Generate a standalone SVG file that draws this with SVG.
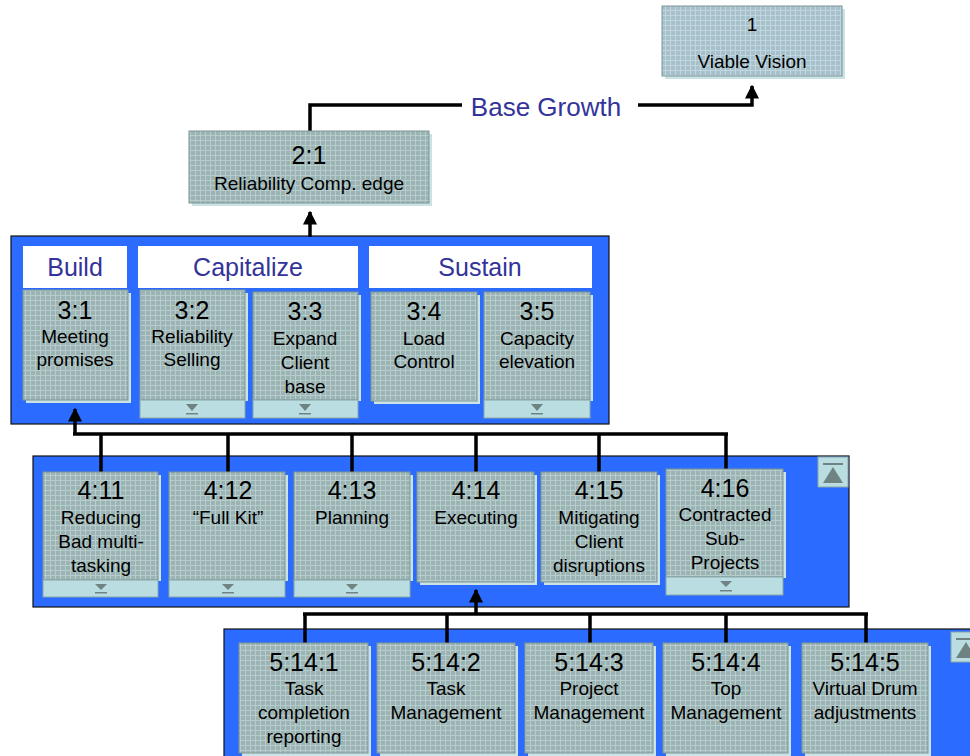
<svg xmlns="http://www.w3.org/2000/svg" width="970" height="756" viewBox="0 0 970 756">
<defs>
<pattern id="tex" width="5" height="5" patternUnits="userSpaceOnUse">
<rect width="5" height="5" fill="#9cb3b3"/>
<path d="M0 0.5H5M0.5 0V5" stroke="#b7cdcd" stroke-width="1"/>
</pattern>
<pattern id="tex2" width="5" height="5" patternUnits="userSpaceOnUse">
<rect width="5" height="5" fill="#a6c0cc"/>
<path d="M0 0.5H5M0.5 0V5" stroke="#c2d6de" stroke-width="1"/>
</pattern>
<marker id="ah" viewBox="0 0 10 10" refX="9" refY="5" markerWidth="4" markerHeight="4" orient="auto" markerUnits="strokeWidth">
<path d="M0 0L10 5L0 10Z" fill="#000"/>
</marker>
</defs>
<style>
.panel{fill:#2b6bff;stroke:#111;stroke-width:1.2}
.hdr{fill:#fff}
.htxt{font-family:"Liberation Sans",Arial,sans-serif;font-size:25px;fill:#333399;text-anchor:middle}
.shd{fill:#c9e3e6}
.box{fill:url(#tex);stroke:#7e9696;stroke-width:1}
.box2{fill:url(#tex2);stroke:#7e9696;stroke-width:1}
.strip{fill:#b9dde1;stroke:#8aa7aa;stroke-width:1}
.tri{fill:#6f8383}
.num{font-family:"Liberation Sans",Arial,sans-serif;font-size:25px;fill:#000;text-anchor:middle}
.lbl{font-family:"Liberation Sans",Arial,sans-serif;font-size:19px;fill:#000;text-anchor:middle}
.con{fill:none;stroke:#000;stroke-width:3.5}
.btn{fill:#b9dde1;stroke:#8aa7aa;stroke-width:1}
</style>

<!-- panels -->
<rect class="panel" x="11" y="236" width="598" height="188"/>
<rect class="panel" x="33" y="456" width="816" height="151"/>
<rect class="panel" x="224" y="629" width="760" height="140"/>

<!-- headers -->
<g id="hdr-build"><rect class="hdr" x="23" y="246" width="104" height="42"/><text class="htxt" x="75" y="276">Build</text></g>
<g id="hdr-capitalize"><rect class="hdr" x="138" y="246" width="220" height="42"/><text class="htxt" x="248" y="276">Capitalize</text></g>
<g id="hdr-sustain"><rect class="hdr" x="369" y="246" width="223" height="42"/><text class="htxt" x="480" y="276">Sustain</text></g>

<!-- connectors -->
<g id="connectors">
<path class="con" d="M310 131V105H462"/>
<path class="con" d="M638 105H752V86" marker-end="url(#ah)"/>
<path class="con" d="M310 237V212" marker-end="url(#ah)"/>
<path class="con" d="M101 472V434M228 472V434M352 472V434M476 472V434M599 472V434M726 469V434M73 434H728"/>
<path class="con" d="M75 434V409" marker-end="url(#ah)"/>
<path class="con" d="M305 643V614M447 643V614M590 643V614M726 643V614M866 643V614M303 614H868"/>
<path class="con" d="M476 614V590" marker-end="url(#ah)"/>
</g>
<text x="546" y="116" font-family="Liberation Sans, Arial, sans-serif" font-size="26" fill="#333399" text-anchor="middle">Base Growth</text>

<!-- level 1 -->
<g id="n1">
<rect class="shd" x="665" y="9" width="180" height="70"/>
<rect class="box2" x="662" y="6" width="180" height="70"/>
<text class="lbl" x="752" y="31" font-size="18">1</text>
<text class="lbl" x="752" y="68" font-size="19">Viable Vision</text>
</g>

<!-- level 2 -->
<g id="n2-1">
<rect class="shd" x="192" y="134" width="240" height="72"/>
<rect class="box" x="189" y="131" width="240" height="72"/>
<text class="num" x="309" y="164" font-size="23">2:1</text>
<text class="lbl" x="309" y="190">Reliability Comp. edge</text>
</g>

<!-- level 3 -->
<g id="n3-1">
<rect class="shd" x="26" y="293" width="105" height="110"/>
<rect class="box" x="23" y="290" width="105" height="110"/>
<text class="num" x="75" y="319">3:1</text>
<text class="lbl" x="75" y="343">Meeting</text>
<text class="lbl" x="75" y="366">promises</text>
</g>
<g id="n3-2">
<rect class="shd" x="143" y="293" width="105" height="108"/>
<rect class="box" x="140" y="290" width="105" height="110"/>
<rect class="strip" x="140" y="400" width="105" height="18"/>
<path class="tri" d="M186 404H198L192 411Z M186 413H198V414.5H186Z"/>
<text class="num" x="192" y="319">3:2</text>
<text class="lbl" x="192" y="343">Reliability</text>
<text class="lbl" x="192" y="366">Selling</text>
</g>
<g id="n3-3">
<rect class="shd" x="256" y="295" width="105" height="106"/>
<rect class="box" x="253" y="292" width="105" height="108"/>
<rect class="strip" x="253" y="400" width="105" height="18"/>
<path class="tri" d="M299 404H311L305 411Z M299 413H311V414.5H299Z"/>
<text class="num" x="305" y="320">3:3</text>
<text class="lbl" x="305" y="345">Expand</text>
<text class="lbl" x="305" y="369">Client</text>
<text class="lbl" x="305" y="393">base</text>
</g>
<g id="n3-4">
<rect class="shd" x="374" y="295" width="106" height="109"/>
<rect class="box" x="371" y="292" width="106" height="109"/>
<text class="num" x="424" y="320">3:4</text>
<text class="lbl" x="424" y="345">Load</text>
<text class="lbl" x="424" y="368">Control</text>
</g>
<g id="n3-5">
<rect class="shd" x="487" y="295" width="106" height="106"/>
<rect class="box" x="484" y="292" width="106" height="108"/>
<rect class="strip" x="484" y="400" width="106" height="18"/>
<path class="tri" d="M531 404H543L537 411Z M531 413H543V414.5H531Z"/>
<text class="num" x="537" y="320">3:5</text>
<text class="lbl" x="537" y="345">Capacity</text>
<text class="lbl" x="537" y="368">elevation</text>
</g>

<!-- level 4 -->
<g id="n4-11">
<rect class="shd" x="46" y="475" width="115" height="106"/>
<rect class="box" x="43" y="472" width="115" height="108"/>
<rect class="strip" x="43" y="580" width="115" height="17"/>
<path class="tri" d="M95 584H107L101 590Z M95 592H107V593.5H95Z"/>
<text class="num" x="101" y="499">4:11</text>
<text class="lbl" x="101" y="524">Reducing</text>
<text class="lbl" x="101" y="548">Bad multi-</text>
<text class="lbl" x="101" y="572">tasking</text>
</g>
<g id="n4-12">
<rect class="shd" x="172" y="475" width="116" height="106"/>
<rect class="box" x="169" y="472" width="116" height="108"/>
<rect class="strip" x="169" y="580" width="116" height="17"/>
<path class="tri" d="M222 584H234L228 590Z M222 592H234V593.5H222Z"/>
<text class="num" x="228" y="499">4:12</text>
<text class="lbl" x="228" y="524">“Full Kit”</text>
</g>
<g id="n4-13">
<rect class="shd" x="297" y="475" width="116" height="106"/>
<rect class="box" x="294" y="472" width="116" height="108"/>
<rect class="strip" x="294" y="580" width="116" height="17"/>
<path class="tri" d="M346 584H358L352 590Z M346 592H358V593.5H346Z"/>
<text class="num" x="352" y="499">4:13</text>
<text class="lbl" x="352" y="524">Planning</text>
</g>
<g id="n4-14">
<rect class="shd" x="420" y="475" width="117" height="110"/>
<rect class="box" x="417" y="472" width="117" height="110"/>
<text class="num" x="476" y="499">4:14</text>
<text class="lbl" x="476" y="524">Executing</text>
</g>
<g id="n4-15">
<rect class="shd" x="544" y="475" width="116" height="110"/>
<rect class="box" x="541" y="472" width="116" height="110"/>
<text class="num" x="599" y="499">4:15</text>
<text class="lbl" x="599" y="524">Mitigating</text>
<text class="lbl" x="599" y="548">Client</text>
<text class="lbl" x="599" y="572">disruptions</text>
</g>
<g id="n4-16">
<rect class="shd" x="669" y="472" width="117" height="106"/>
<rect class="box" x="666" y="469" width="117" height="108"/>
<rect class="strip" x="666" y="577" width="117" height="18"/>
<path class="tri" d="M720 581H732L726 587Z M720 590H732V591.5H720Z"/>
<text class="num" x="725" y="497">4:16</text>
<text class="lbl" x="725" y="521">Contracted</text>
<text class="lbl" x="725" y="545">Sub-</text>
<text class="lbl" x="725" y="569">Projects</text>
</g>
<g id="btn4">
<rect class="btn" x="818" y="457" width="30" height="30"/>
<path class="tri" d="M823 463H843V465H823Z M823 483L833 467L843 483Z"/>
</g>

<!-- level 5 -->
<g id="n5-1">
<rect class="shd" x="242" y="646" width="129" height="112"/>
<rect class="box" x="239" y="643" width="129" height="110"/>
<text class="num" x="304" y="671">5:14:1</text>
<text class="lbl" x="304" y="695">Task</text>
<text class="lbl" x="304" y="719">completion</text>
<text class="lbl" x="304" y="743">reporting</text>
</g>
<g id="n5-2">
<rect class="shd" x="380" y="646" width="138" height="112"/>
<rect class="box" x="377" y="643" width="138" height="110"/>
<text class="num" x="446" y="671">5:14:2</text>
<text class="lbl" x="446" y="695">Task</text>
<text class="lbl" x="446" y="719">Management</text>
</g>
<g id="n5-3">
<rect class="shd" x="528" y="646" width="128" height="112"/>
<rect class="box" x="525" y="643" width="128" height="110"/>
<text class="num" x="589" y="671">5:14:3</text>
<text class="lbl" x="589" y="695">Project</text>
<text class="lbl" x="589" y="719">Management</text>
</g>
<g id="n5-4">
<rect class="shd" x="666" y="646" width="125" height="112"/>
<rect class="box" x="663" y="643" width="125" height="110"/>
<text class="num" x="726" y="671">5:14:4</text>
<text class="lbl" x="726" y="695">Top</text>
<text class="lbl" x="726" y="719">Management</text>
</g>
<g id="n5-5">
<rect class="shd" x="805" y="646" width="126" height="112"/>
<rect class="box" x="802" y="643" width="126" height="110"/>
<text class="num" x="865" y="671">5:14:5</text>
<text class="lbl" x="865" y="695">Virtual Drum</text>
<text class="lbl" x="865" y="719">adjustments</text>
</g>
<g id="btn5">
<rect class="btn" x="951" y="632" width="30" height="30"/>
<path class="tri" d="M956 638H976V640H956Z M956 658L966 642L976 658Z"/>
</g>
</svg>
